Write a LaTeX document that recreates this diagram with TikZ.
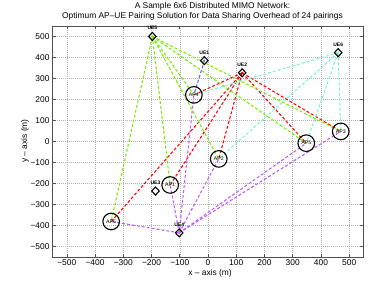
\documentclass[tikz,border=0pt]{standalone}
\usepackage{fontspec}
\setmainfont{Liberation Sans}
\usetikzlibrary{shapes.geometric, backgrounds}

\definecolor{uegreen}{RGB}{118,238,0}
\definecolor{uered}{RGB}{255,0,0}
\definecolor{ueblue}{RGB}{70,110,255}
\definecolor{uecyan}{RGB}{120,245,215}
\definecolor{uepurple}{RGB}{190,90,255}
\definecolor{axisgray}{RGB}{80,80,80}

\newcommand\ticktext[1]{\ifnum#1<0 −\number-#1\else#1\fi}

\begin{document}
\begin{tikzpicture}[
    x=1pt, y=1pt,
    % Styles
    ap/.style={
        circle, draw=black, line width=1.1pt, minimum size=16.6pt, inner sep=0pt,
        font=\fontsize{5.2}{6}\selectfont
    },
    ue/.style={
        diamond, draw=black, line width=1.1pt, minimum width=8pt, minimum height=8.5pt,
        inner sep=0pt,
        path picture={\path[fill=#1] (path picture bounding box.center) circle (1.2pt);}
    },
    ue/.default=white,
    uelabel/.style={
        font=\fontsize{5}{6}\selectfont\bfseries, inner sep=0.6pt, yshift=0.9pt
    },
    link/.style={
        draw=#1, line width=1.05pt, dash pattern=on 3pt off 2pt
    },
    gridline/.style={
        draw=black!30, line width=0.45pt, dash pattern=on 0.6pt off 1.4pt
    },
    axisline/.style={
        draw=axisgray, line width=0.6pt
    },
    ticklabel/.style={
        font=\fontsize{8.4}{9}\selectfont, inner sep=0pt
    },
    title/.style={
        font=\fontsize{8.4}{9}\selectfont, inner sep=0pt, anchor=base
    },
    axislabel/.style={
        font=\fontsize{8.4}{9}\selectfont, inner sep=0pt
    }
]
\useasboundingbox (0,0) rectangle (374,289);

% Title
\node[title] (title1) at (212.5,280.5) {A Sample 6x6 Distributed MIMO Network:};
\node[title] (title2) at (202.5,270.5) {Optimum AP–UE Pairing Solution for Data Sharing Overhead of 24 pairings};

% Axis labels
\node[axislabel] (xlabel) at (210,16) {x – axis (m)};
\node[axislabel, rotate=90] (ylabel) at (25,148) {y – axis (m)};

\begin{scope}[shift={(208,147.5)}, x=0.2824pt, y=0.21pt]

% ── Axes ────────────────────────────────────────────────────────────────────
\begin{pgfonlayer}{background}
    \foreach \v in {-500,-400,...,500} {
        \draw[gridline] (\v,-550) -- (\v,550);
        \draw[gridline] (-550,\v) -- (550,\v);
    }
\end{pgfonlayer}
\foreach \v in {-500,-400,...,500} {
    \draw[axisline] (\v,-550) -- ++(0,3pt) (\v,550) -- ++(0,-3pt);
    \draw[axisline] (-550,\v) -- ++(3pt,0) (550,\v) -- ++(-3pt,0);
    \node[ticklabel, anchor=north, yshift=-2.5pt] (xtick\v) at (\v,-550) {\ticktext{\v}};
    \node[ticklabel, anchor=east, xshift=-3pt] (ytick\v) at (-550,\v) {\ticktext{\v}};
}
\draw[axisline] (-550,-550) rectangle (550,550);

% ── Access points ───────────────────────────────────────────────────────────
\node[ap] (ap1) at (-134,-207) {AP1};
\node[ap] (ap2) at (38,-83) {AP2};
\node[ap] (ap3) at (470,48) {AP3};
\node[ap] (ap4) at (-50,222) {AP4};
\node[ap] (ap5) at (348,-8) {AP5};
\node[ap] (ap6) at (-343,-381) {AP6};

% ── Users ───────────────────────────────────────────────────────────────────
\node[ue=ueblue, label={[uelabel]above:UE1}] (ue1) at (-13,385) {};
\node[ue=uered, label={[uelabel]above:UE2}] (ue2) at (121,327) {};
\node[ue, label={[uelabel]above:UE3}] (ue3) at (-186,-236) {};
\node[ue=uepurple, label={[uelabel]above:UE4}] (ue4) at (-102,-435) {};
\node[ue=uegreen, label={[uelabel]above:UE5}] (ue5) at (-197,500) {};
\node[ue=uecyan, label={[uelabel]above:UE6}] (ue6) at (461,423) {};

% ── Pairings ────────────────────────────────────────────────────────────────
\begin{pgfonlayer}{background}
    % UE1
    \draw[link=ueblue] (ue1.center) -- (ap4.center);
    % UE2
    \draw[link=uered] (ue2.center) -- (ap1.center);
    \draw[link=uered] (ue2.center) -- (ap2.center);
    \draw[link=uered] (ue2.center) -- (ap3.center);
    \draw[link=uered] (ue2.center) -- (ap4.center);
    \draw[link=uered] (ue2.center) -- (ap5.center);
    \draw[link=uered] (ue2.center) -- (ap6.center);
    % UE4
    \draw[link=uepurple] (ue4.center) -- (ap1.center);
    \draw[link=uepurple] (ue4.center) -- (ap2.center);
    \draw[link=uepurple] (ue4.center) -- (ap3.center);
    \draw[link=uepurple] (ue4.center) -- (ap4.center);
    \draw[link=uepurple] (ue4.center) -- (ap5.center);
    \draw[link=uepurple] (ue4.center) -- (ap6.center);
    % UE5
    \draw[link=uegreen] (ue5.center) -- (ap1.center);
    \draw[link=uegreen] (ue5.center) -- (ap2.center);
    \draw[link=uegreen] (ue5.center) -- (ap3.center);
    \draw[link=uegreen] (ue5.center) -- (ap4.center);
    \draw[link=uegreen] (ue5.center) -- (ap5.center);
    \draw[link=uegreen] (ue5.center) -- (ap6.center);
    % UE6
    \draw[link=uecyan] (ue6.center) -- (ap2.center);
    \draw[link=uecyan] (ue6.center) -- (ap3.center);
    \draw[link=uecyan] (ue6.center) -- (ap4.center);
    \draw[link=uecyan] (ue6.center) -- (ap5.center);
\end{pgfonlayer}

\end{scope}

\end{tikzpicture}
\end{document}
